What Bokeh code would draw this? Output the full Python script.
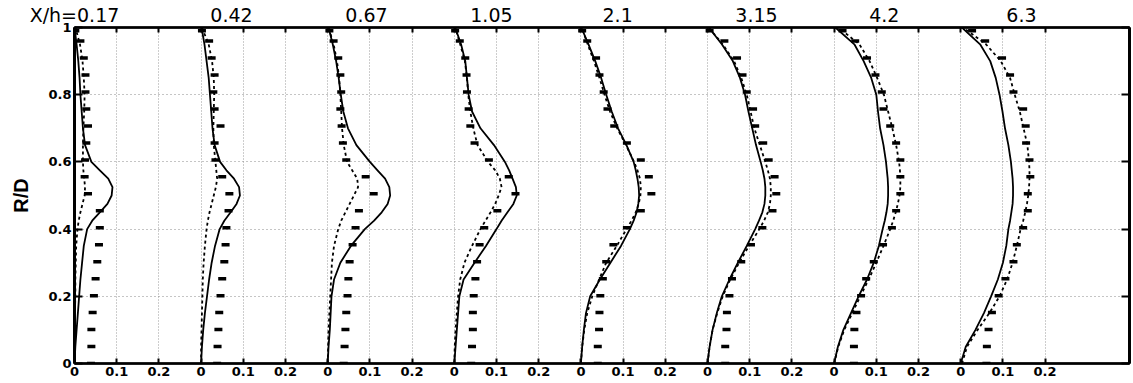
from bokeh.plotting import figure
from bokeh.models import Range1d, FixedTicker, LinearAxis, ColumnDataSource
from bokeh.transform import dodge
from bokeh.embed import file_html
from bokeh.resources import INLINE

# ---------------- data ----------------
stations = ["X/h=0.17", "0.42", "0.67", "1.05", "2.1", "3.15", "4.2", "6.3"]
tick_values = [0.0, 0.1, 0.2]
tick_labels = ["0", "0.1", "0.2"]
y_ticks = [0, 0.2, 0.4, 0.6, 0.8, 1.0]
y_tick_labels = ["0", "0.2", "0.4", "0.6", "0.8", "1"]

# R/D levels at which the two computed profiles were read
line_y = [0, 0.05, 0.1, 0.15, 0.2, 0.25, 0.3, 0.35, 0.4, 0.425, 0.45, 0.475, 0.5,
          0.525, 0.55, 0.575, 0.6, 0.65, 0.7, 0.75, 0.8, 0.85, 0.9, 0.95, 1.0]
# R/D levels of the measured points
exp_y = [0, 0.0505, 0.101, 0.1515, 0.202, 0.2525, 0.303, 0.3535, 0.404, 0.4545, 0.505,
         0.5555, 0.606, 0.6565, 0.707, 0.7575, 0.808, 0.8585, 0.909, 0.9595, 0.99]

solid_017 = [0, 0.002, 0.005, 0.008, 0.011, 0.014, 0.018, 0.022, 0.03, 0.042, 0.06, 0.078, 0.088,
             0.09, 0.08, 0.06, 0.04, 0.025, 0.02, 0.017, 0.014, 0.012, 0.009, 0.005, 0]
dashed_017 = [0, 0, 0.001, 0.001, 0.002, 0.002, 0.003, 0.004, 0.007, 0.01, 0.014, 0.019, 0.024,
              0.025, 0.023, 0.021, 0.02, 0.02, 0.021, 0.023, 0.024, 0.022, 0.019, 0.013, 0.002]
exp_017 = [0.039, 0.04, 0.04, 0.043, 0.046, 0.05, 0.054, 0.058, 0.06, 0.06, 0.032,
           0.024, 0.025, 0.028, 0.032, 0.028, 0.026, 0.026, 0.022, 0.014, 0.002]

solid_042 = [0, 0.002, 0.005, 0.009, 0.014, 0.019, 0.025, 0.033, 0.044, 0.055, 0.07, 0.084, 0.092,
             0.09, 0.078, 0.06, 0.045, 0.032, 0.027, 0.024, 0.021, 0.018, 0.013, 0.008, 0.001]
dashed_042 = [0, 0, 0.001, 0.002, 0.003, 0.004, 0.006, 0.009, 0.013, 0.016, 0.02, 0.025, 0.03,
              0.035, 0.038, 0.036, 0.034, 0.03, 0.029, 0.03, 0.031, 0.03, 0.026, 0.018, 0.002]
exp_042 = [0.038, 0.039, 0.041, 0.043, 0.046, 0.05, 0.055, 0.058, 0.06, 0.065, 0.067,
           0.05, 0.034, 0.032, 0.046, 0.032, 0.029, 0.032, 0.025, 0.019, 0.002]

solid_067 = [0, 0.002, 0.005, 0.007, 0.009, 0.015, 0.03, 0.055, 0.088, 0.11, 0.128, 0.142, 0.148,
             0.146, 0.136, 0.118, 0.1, 0.068, 0.048, 0.037, 0.031, 0.026, 0.02, 0.012, 0.002]
dashed_067 = [0, 0.001, 0.002, 0.004, 0.006, 0.008, 0.01, 0.015, 0.025, 0.032, 0.042, 0.052, 0.062,
              0.072, 0.07, 0.058, 0.046, 0.038, 0.034, 0.032, 0.03, 0.027, 0.022, 0.014, 0.002]
exp_067 = [0.038, 0.04, 0.042, 0.044, 0.047, 0.049, 0.052, 0.059, 0.066, 0.074, 0.109,
           0.09, 0.044, 0.036, 0.033, 0.03, 0.032, 0.03, 0.025, 0.014, 0.004]

solid_105 = [0, 0.003, 0.006, 0.009, 0.012, 0.022, 0.048, 0.075, 0.1, 0.112, 0.126, 0.14, 0.148,
             0.146, 0.138, 0.13, 0.12, 0.094, 0.062, 0.042, 0.034, 0.03, 0.026, 0.016, 0.002]
dashed_105 = [0, 0.001, 0.003, 0.006, 0.009, 0.014, 0.024, 0.042, 0.062, 0.074, 0.086, 0.097, 0.105,
              0.112, 0.108, 0.097, 0.08, 0.055, 0.045, 0.038, 0.033, 0.03, 0.025, 0.014, 0.002]
exp_105 = [0.04, 0.042, 0.044, 0.044, 0.046, 0.05, 0.054, 0.06, 0.071, 0.102, 0.145,
           0.129, 0.082, 0.048, 0.038, 0.034, 0.03, 0.029, 0.026, 0.013, 0.002]

solid_21 = [0, 0.003, 0.007, 0.012, 0.022, 0.045, 0.07, 0.095, 0.116, 0.125, 0.132, 0.136, 0.138,
            0.137, 0.134, 0.13, 0.125, 0.108, 0.088, 0.073, 0.06, 0.048, 0.034, 0.018, 0.001]
dashed_21 = [0, 0.003, 0.008, 0.015, 0.027, 0.043, 0.06, 0.085, 0.108, 0.12, 0.13, 0.137, 0.141,
             0.142, 0.14, 0.134, 0.126, 0.107, 0.086, 0.069, 0.056, 0.044, 0.031, 0.016, 0.002]
exp_21 = [0.04, 0.04, 0.043, 0.044, 0.046, 0.052, 0.06, 0.077, 0.109, 0.142, 0.167,
          0.161, 0.142, 0.109, 0.079, 0.063, 0.054, 0.044, 0.036, 0.015, 0.003]

solid_315 = [0, 0.005, 0.012, 0.022, 0.034, 0.052, 0.072, 0.093, 0.113, 0.122, 0.13, 0.135, 0.137,
             0.137, 0.135, 0.131, 0.126, 0.115, 0.106, 0.097, 0.089, 0.077, 0.06, 0.034, 0.003]
dashed_315 = [0, 0.005, 0.012, 0.023, 0.036, 0.054, 0.075, 0.098, 0.123, 0.134, 0.143, 0.148, 0.15,
              0.15, 0.148, 0.143, 0.137, 0.124, 0.111, 0.102, 0.093, 0.08, 0.063, 0.036, 0.003]
exp_315 = [0.042, 0.042, 0.045, 0.046, 0.052, 0.058, 0.08, 0.103, 0.13, 0.154, 0.163,
           0.159, 0.145, 0.132, 0.113, 0.108, 0.093, 0.083, 0.07, 0.04, 0.005]

solid_42 = [0, 0.009, 0.022, 0.04, 0.058, 0.078, 0.094, 0.106, 0.115, 0.12, 0.124, 0.127, 0.128,
            0.128, 0.127, 0.125, 0.123, 0.117, 0.109, 0.104, 0.1, 0.088, 0.07, 0.048, 0.003]
dashed_42 = [0, 0.01, 0.024, 0.043, 0.062, 0.082, 0.1, 0.117, 0.133, 0.14, 0.146, 0.151, 0.155,
             0.157, 0.157, 0.156, 0.154, 0.147, 0.138, 0.128, 0.118, 0.102, 0.084, 0.06, 0.01]
exp_42 = [0.047, 0.047, 0.048, 0.053, 0.064, 0.076, 0.094, 0.116, 0.137, 0.147, 0.157,
          0.157, 0.157, 0.147, 0.133, 0.117, 0.113, 0.098, 0.078, 0.05, 0.02]

solid_63 = [0, 0.012, 0.035, 0.055, 0.072, 0.088, 0.1, 0.108, 0.113, 0.117, 0.12, 0.123, 0.124,
            0.124, 0.123, 0.121, 0.119, 0.113, 0.105, 0.099, 0.092, 0.083, 0.07, 0.046, 0.003]
dashed_63 = [0.003, 0.015, 0.04, 0.068, 0.092, 0.11, 0.123, 0.133, 0.142, 0.148, 0.153, 0.157, 0.16,
             0.162, 0.163, 0.163, 0.162, 0.158, 0.149, 0.14, 0.128, 0.117, 0.095, 0.06, 0.006]
exp_63 = [0.061, 0.062, 0.066, 0.074, 0.09, 0.106, 0.125, 0.133, 0.148, 0.159, 0.159,
          0.165, 0.163, 0.155, 0.154, 0.148, 0.125, 0.117, 0.098, 0.058, 0.027]

solid_all = [solid_017, solid_042, solid_067, solid_105, solid_21, solid_315, solid_42, solid_63]
dashed_all = [dashed_017, dashed_042, dashed_067, dashed_105, dashed_21, dashed_315, dashed_42, dashed_63]
exp_all = [exp_017, exp_042, exp_067, exp_105, exp_21, exp_315, exp_42, exp_63]

# ---------------- layout ----------------
panel_step = 0.3                      # horizontal shift between successive profiles
title_x = [0.0, 0.372, 0.692, 0.988, 1.287, 1.616, 1.919, 2.244]

p = figure(width=1133, height=383, x_range=Range1d(0, 2.5), y_range=Range1d(0, 1),
           output_backend="svg", toolbar_location=None,
           min_border_left=74, min_border_right=4, min_border_top=25, min_border_bottom=20)
p.background_fill_color = "white"
p.border_fill_color = "white"
p.outline_line_color = "black"
p.outline_line_width = 2

x_tick_pos = [round(panel_step * k + v, 2) for k in range(len(stations)) for v in tick_values]
x_overrides = {round(panel_step * k + v, 2): lab
               for k in range(len(stations)) for v, lab in zip(tick_values, tick_labels)}
xticker = FixedTicker(ticks=x_tick_pos, minor_ticks=[])
yticker = FixedTicker(ticks=y_ticks, minor_ticks=[])

TICK_FONT = "DejaVu Sans"

xa = p.xaxis[0]
xa.ticker = xticker
xa.major_label_overrides = x_overrides
xa.major_label_text_font = TICK_FONT
xa.major_label_text_font_style = "bold"
xa.major_label_text_font_size = "13px"
xa.major_label_text_color = "black"
xa.major_label_standoff = 3
xa.major_tick_in = 5
xa.major_tick_out = 0
xa.major_tick_line_width = 2
xa.minor_tick_line_color = None
xa.axis_line_width = 2.5

ya = p.yaxis[0]
ya.ticker = yticker
ya.major_label_overrides = dict(zip(y_ticks, y_tick_labels))
ya.major_label_text_font = TICK_FONT
ya.major_label_text_font_style = "bold"
ya.major_label_text_font_size = "13px"
ya.major_label_text_color = "black"
ya.major_label_standoff = 3
ya.major_tick_in = 8
ya.major_tick_out = 0
ya.major_tick_line_width = 2
ya.minor_tick_line_color = None
ya.axis_line_width = 3
ya.axis_label = "R/D"
ya.axis_label_text_font = "Liberation Sans"
ya.axis_label_text_font_style = "bold"
ya.axis_label_text_font_size = "20px"
ya.axis_label_text_color = "black"
ya.axis_label_standoff = 13

# tick marks on the top and right edges of the box (no labels)
top = LinearAxis(ticker=xticker, major_label_text_font_size="1px", major_label_text_color=None,
                 major_tick_in=5, major_tick_out=0, major_tick_line_width=2,
                 minor_tick_line_color=None, axis_line_width=2.5, major_label_standoff=0)
right = LinearAxis(ticker=yticker, major_label_text_font_size="1px", major_label_text_color=None,
                   major_tick_in=8, major_tick_out=0, major_tick_line_width=2,
                   minor_tick_line_color=None, axis_line_width=3, major_label_standoff=0)
p.add_layout(top, "above")
p.add_layout(right, "right")

# station names written above the box
title_ticker = FixedTicker(ticks=title_x, minor_ticks=[])
titles = LinearAxis(ticker=title_ticker,
                    major_label_overrides=dict(zip(title_x, stations)),
                    major_label_text_font="DejaVu Sans", major_label_text_font_size="19px",
                    major_label_text_color="black", major_label_standoff=2,
                    major_tick_in=0, major_tick_out=0, major_tick_line_color=None,
                    minor_tick_line_color=None, axis_line_color=None)
p.add_layout(titles, "above")

p.xgrid.ticker = xticker
p.ygrid.ticker = yticker
p.xgrid.grid_line_color = "#9a9a9a"
p.xgrid.grid_line_dash = "1 2"
p.xgrid.grid_line_width = 1
p.ygrid.grid_line_color = "#8a8a8a"
p.ygrid.grid_line_dash = "1 3"
p.ygrid.grid_line_width = 1

for k in range(len(stations)):
    off = panel_step * k
    src_s = ColumnDataSource(dict(x=solid_all[k], y=line_y))
    src_d = ColumnDataSource(dict(x=dashed_all[k], y=line_y))
    src_e = ColumnDataSource(dict(x=exp_all[k], y=exp_y))
    p.line(x=dodge("x", off, range=p.x_range), y="y", source=src_s,
           line_color="black", line_width=1.8)
    p.line(x=dodge("x", off, range=p.x_range), y="y", source=src_d,
           line_color="black", line_width=1.8, line_dash="3 3")
    p.scatter(x=dodge("x", off, range=p.x_range), y="y", source=src_e, marker="dash",
              size=8, line_width=3.5, line_color="black")

open("out.html", "w").write(file_html(p, INLINE))
